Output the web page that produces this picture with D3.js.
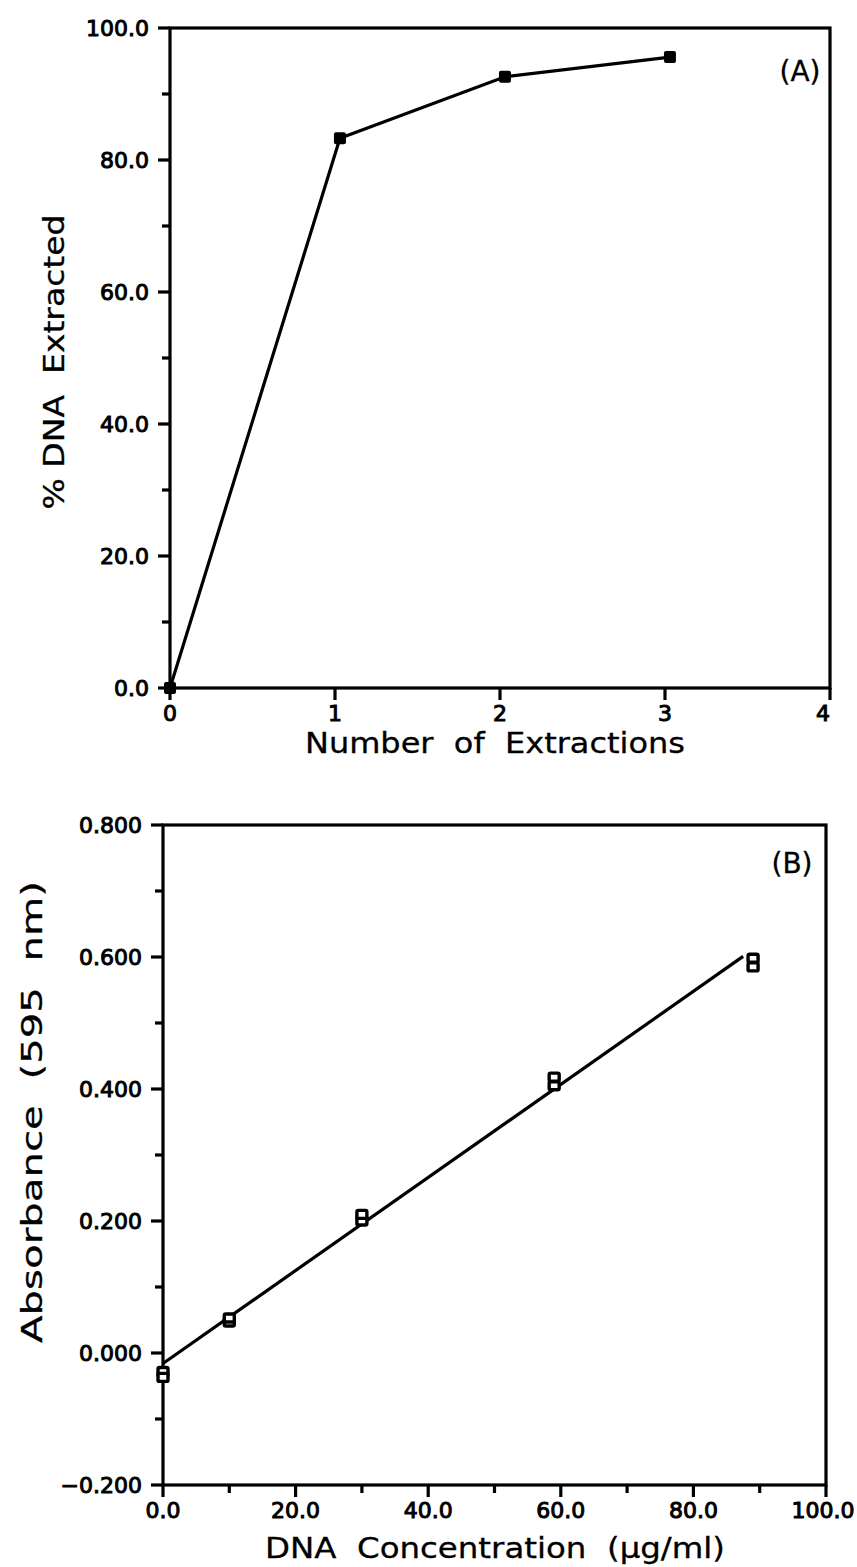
<!DOCTYPE html>
<html>
<head>
<meta charset="utf-8">
<script src="https://cdn.jsdelivr.net/npm/d3@7"></script>
<style>
  body { margin: 0; background: #fff; }
  svg text { font-family: "DejaVu Sans", sans-serif; fill: #000; white-space: pre; }
</style>
</head>
<body>
<div id="chart"></div>
<script>
// ---- panel A: extraction efficiency ----
const extractions = [0, 1.03, 2.03, 3.03];
const pctExtracted = [0.0, 83.3, 92.6, 95.6];
const aXTicks = [0, 1, 2, 3, 4];
const aYTicks = [0, 20, 40, 60, 80, 100];

// ---- panel B: standard curve ----
const concentration = [0, 10, 30, 59, 89];
const absorbanceRep1 = [-0.028, 0.047, 0.200, 0.405, 0.585];
const absorbanceRep2 = [-0.037, 0.053, 0.210, 0.418, 0.598];
const fitIntercept = -0.016;
const fitSlope = 0.00705;
const fitRange = [0, 87.5];
const bXTicks = [0, 20, 40, 60, 80, 100];
const bYTicks = [-0.2, 0, 0.2, 0.4, 0.6, 0.8];

const W = 857, H = 1567;
const svg = d3.select("#chart").append("svg")
    .attr("width", W)
    .attr("height", H);

const ink = "#000";
const lw = 3.2;

function frame(g, x, y) {
    const [x0, x1] = x.range();
    const [y0, y1] = y.range();
    g.append("rect")
        .attr("x", x0).attr("y", y1)
        .attr("width", x1 - x0).attr("height", y0 - y1)
        .attr("fill", "none")
        .attr("stroke", ink)
        .attr("stroke-width", lw);
}

function tickText(sel) {
    sel.attr("font-size", 22)
        .attr("stroke", ink)
        .attr("stroke-width", 1.0);
}

function axes(g, x, y, xTicks, yTicks, xMinor, yMinor, xFmt, yFmt) {
    const [y0] = y.range();
    const [x0] = x.range();

    // x ticks point down, out of the box
    g.selectAll(".xminor").data(xMinor).join("line")
        .attr("x1", d => x(d)).attr("x2", d => x(d))
        .attr("y1", y0).attr("y2", y0 + 8)
        .attr("stroke", ink).attr("stroke-width", lw);
    g.selectAll(".xmajor").data(xTicks).join("line")
        .attr("x1", d => x(d)).attr("x2", d => x(d))
        .attr("y1", y0).attr("y2", y0 + 12)
        .attr("stroke", ink).attr("stroke-width", lw);
    g.selectAll(".xlab").data(xTicks).join("text")
        .attr("x", d => Math.min(x(d), W - 34)).attr("y", y0 + 33)
        .attr("text-anchor", "middle")
        .call(tickText)
        .text(xFmt);

    // y ticks point left
    g.selectAll(".yminor").data(yMinor).join("line")
        .attr("x1", x0 - 8).attr("x2", x0)
        .attr("y1", d => y(d)).attr("y2", d => y(d))
        .attr("stroke", ink).attr("stroke-width", lw);
    g.selectAll(".ymajor").data(yTicks).join("line")
        .attr("x1", x0 - 12).attr("x2", x0)
        .attr("y1", d => y(d)).attr("y2", d => y(d))
        .attr("stroke", ink).attr("stroke-width", lw);
    g.selectAll(".ylab").data(yTicks).join("text")
        .attr("x", x0 - 21).attr("y", d => y(d) + 8)
        .attr("text-anchor", "end")
        .call(tickText)
        .text(yFmt);
}

function title(g, x, y, rot, len, str) {
    g.append("text")
        .attr("transform", `translate(${x},${y}) rotate(${rot})`)
        .attr("text-anchor", "middle")
        .attr("font-size", 28)
        .attr("stroke", ink)
        .attr("stroke-width", 0.3)
        .attr("textLength", len)
        .attr("lengthAdjust", "spacingAndGlyphs")
        .text(str);
}

// ================= (A) =================
const xA = d3.scaleLinear().domain([0, 4]).range([170, 830]);
const yA = d3.scaleLinear().domain([0, 100]).range([688, 28]);
const gA = svg.append("g");

frame(gA, xA, yA);
axes(gA, xA, yA, aXTicks, aYTicks,
    [], d3.range(10, 100, 20),
    d3.format("d"), d3.format(".1f"));

const ptsA = extractions.map((e, i) => [e, pctExtracted[i]]);
gA.append("path")
    .datum(ptsA)
    .attr("d", d3.line().x(d => xA(d[0])).y(d => yA(d[1])))
    .attr("fill", "none")
    .attr("stroke", ink)
    .attr("stroke-width", lw);
gA.selectAll(".ptA").data(ptsA).join("rect")
    .attr("x", d => xA(d[0]) - 6)
    .attr("y", d => yA(d[1]) - 6)
    .attr("width", 12).attr("height", 12)
    .attr("rx", 2)
    .attr("fill", ink);

title(gA, 495, 753, 0, 380, "Number  of  Extractions");
title(gA, 64, 362, -90, 295, "% DNA  Extracted");

gA.append("text")
    .attr("x", 800).attr("y", 81)
    .attr("text-anchor", "middle")
    .attr("font-size", 28)
    .attr("stroke", ink).attr("stroke-width", 0.3)
    .text("(A)");

// ================= (B) =================
const xB = d3.scaleLinear().domain([0, 100]).range([163, 826]);
const yB = d3.scaleLinear().domain([-0.2, 0.8]).range([1485, 825]);
const gB = svg.append("g");

frame(gB, xB, yB);
axes(gB, xB, yB, bXTicks, bYTicks,
    d3.range(10, 100, 20), d3.range(-0.1, 0.8, 0.2),
    d3.format(".1f"), d3.format(".3f"));

gB.append("path")
    .datum(fitRange)
    .attr("d", d3.line().x(d => xB(d)).y(d => yB(fitIntercept + fitSlope * d)))
    .attr("fill", "none")
    .attr("stroke", ink)
    .attr("stroke-width", lw);

// two replicate readings per concentration, open squares
const reps = concentration.flatMap((c, i) => [
    [c, absorbanceRep1[i]],
    [c, absorbanceRep2[i]]
]);
gB.selectAll(".ptB").data(reps).join("rect")
    .attr("x", d => xB(d[0]) - 5)
    .attr("y", d => yB(d[1]) - 4)
    .attr("width", 10).attr("height", 8)
    .attr("rx", 1.5)
    .attr("fill", "#fff")
    .attr("stroke", ink)
    .attr("stroke-width", 3.4);

title(gB, 495, 1558, 0, 460, "DNA  Concentration  (\u03bcg/ml)");
title(gB, 42, 1112, -90, 462, "Absorbance  (595  nm)");

gB.append("text")
    .attr("x", 792).attr("y", 873)
    .attr("text-anchor", "middle")
    .attr("font-size", 28)
    .attr("stroke", ink).attr("stroke-width", 0.3)
    .text("(B)");
</script>
</body>
</html>
